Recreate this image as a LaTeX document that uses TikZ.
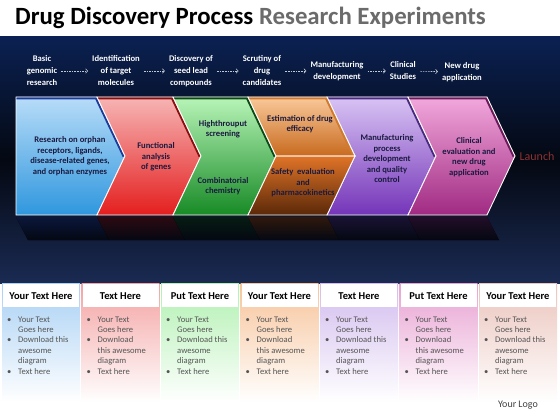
\documentclass[tikz,border=0pt]{standalone}
\usepackage{fontspec}
\setmainfont{Carlito}
\usetikzlibrary{arrows.meta}
\usetikzlibrary{calc}
\definecolor{navytop}{HTML}{0B2152}
\definecolor{bandmid}{HTML}{040812}
\definecolor{navybot}{HTML}{1A2A52}
\definecolor{titlegray}{HTML}{6B6B6B}
\definecolor{chevtext}{HTML}{1A1A40}
\definecolor{bodygray}{HTML}{555555}
\definecolor{launchred}{HTML}{8C3232}
\definecolor{logogray}{HTML}{404040}
% chevron colours: light, dark, edge
\definecolor{bluelt}{HTML}{B8DCF8}\definecolor{bluedk}{HTML}{2F97DE}\definecolor{blueedge}{HTML}{1C3A9A}
\definecolor{redlt}{HTML}{F7B5B5}\definecolor{reddk}{HTML}{E41E1E}\definecolor{rededge}{HTML}{8A1010}
\definecolor{greenlt}{HTML}{B8F5B8}\definecolor{greendk}{HTML}{178A25}\definecolor{greenedge}{HTML}{0C4A14}
\definecolor{orangelt}{HTML}{F9C99A}\definecolor{orangedk}{HTML}{C86A1E}\definecolor{orangeedge}{HTML}{D07A30}
\definecolor{brownlt}{HTML}{E07428}\definecolor{browndk}{HTML}{5A2808}
\definecolor{purplelt}{HTML}{D8C4F4}\definecolor{purpledk}{HTML}{7434B8}\definecolor{purpleedge}{HTML}{4A2A80}
\definecolor{pinklt}{HTML}{F2A8DC}\definecolor{pinkdk}{HTML}{A02A82}\definecolor{pinkedge}{HTML}{6A1A5A}
% column colours
\definecolor{colblue}{HTML}{A8D0F4}
\definecolor{colred}{HTML}{F4A2A2}
\definecolor{colgreen}{HTML}{B0F0B0}
\definecolor{colorange}{HTML}{F7C49A}
\definecolor{colpurple}{HTML}{D2BCEE}
\definecolor{colpink}{HTML}{E8A2D2}
\definecolor{colrose}{HTML}{EBC4BC}
\tikzset{
    toplabel/.style={align=center, text=white, inner sep=1pt, font=\bfseries\fontsize{8.6}{12}\selectfont},
    flowarrow/.style={draw=white!75!navytop, line width=0.6pt, dash pattern=on 1.6pt off 1pt,
        -{Straight Barb[length=2pt,width=4.5pt]}, shorten <=3pt, shorten >=3pt},
    chevlabel/.style={align=center, text=chevtext, font=\bfseries\fontsize{8.6}{10.5}\selectfont},
    headtext/.style={font=\bfseries\fontsize{10.5}{12}\selectfont, text=black},
    bodytext/.style={font=\fontsize{8.6}{10.4}\selectfont, text=bodygray, inner sep=0pt}
}
% one chevron: left x, right x, top colour, bottom colour, edge colour, notch depth
\newcommand{\chevron}[6]{
    \begin{scope}
        \clip (#1,97) -- (#2,97) -- ({#2+28},156) -- (#2,215) -- (#1,215) -- ({#1+#6},156) -- cycle;
        \fill[top color=#3, bottom color=#4] (#1,97) rectangle ({#2+28},215);
        \draw[#5, line width=5pt] (#1,97) -- (#2,97) -- ({#2+28},156);
    \end{scope}
    \draw[white, line width=0.9pt] (#1,97) -- (#2,97) -- ({#2+28},156) -- (#2,215) -- (#1,215) -- ({#1+#6},156) -- cycle;
    \fill[top color=#5!30!bandmid, bottom color=bandmid] (#1,217) -- (#2,217) -- ({#2+12},240) -- ({#1+12},240) -- cycle;
}
% one text column below: name, left x, colour, header
\newcommand{\textcol}[4]{
    \fill[top color=#3, bottom color=white] (#2,283) rectangle ({#2+78},402);
    \fill[white] ({#2+1},284) rectangle ({#2+77},307);
    \node[headtext] (#1head) at ({#2+39},296) {#4};
}

\begin{document}
\begin{tikzpicture}[x=1pt,y=-1pt]
    \useasboundingbox (0,0) rectangle (560,420);
    % title
    \node[anchor=base west, inner sep=0pt, font=\bfseries\fontsize{24.8}{28}\selectfont] (title) at (15,25)
        {Drug Discovery Process \textcolor{titlegray}{Research Experiments}};
    % dark band
    \fill[top color=navytop, bottom color=navybot, middle color=bandmid] (0,37) rectangle (560,283);
    % steps on top
    \node[toplabel] (basic) at (42,71) {Basic\\genomic\\research};
    \node[toplabel] (target) at (116,71) {Identification\\of target\\molecules};
    \node[toplabel] (seed) at (191,71) {Discovery of\\seed lead\\compounds};
    \node[toplabel] (drug) at (262,71) {Scrutiny of\\drug\\candidates};
    \node[toplabel] (manufact) at (337,71) {Manufacturing\\development};
    \node[toplabel] (studies) at (403,71) {Clinical\\Studies};
    \node[toplabel] (newdrug) at (462,72) {New drug\\application};
    \draw[flowarrow] (basic) -- (target);
    \draw[flowarrow] (target) -- (seed);
    \draw[flowarrow] (seed) -- (drug);
    \draw[flowarrow] (drug) -- (manufact);
    \draw[flowarrow] (manufact) -- (studies);
    \draw[flowarrow] (studies) -- (newdrug);
    % chevrons
    \chevron{16}{97}{bluelt}{bluedk}{blueedge}{0}
    \chevron{97}{173}{redlt}{reddk}{rededge}{28}
    \chevron{173}{248}{greenlt}{greendk}{greenedge}{28}
    \chevron{327}{408}{purplelt}{purpledk}{purpleedge}{28}
    \chevron{408}{487}{pinklt}{pinkdk}{pinkedge}{28}
    % split orange chevron
    \begin{scope}
        \clip (248,97) -- (327,97) -- (355,156) -- (276,156) -- cycle;
        \fill[top color=orangelt, bottom color=orangedk] (248,97) rectangle (355,156);
        \draw[orangeedge, line width=5pt] (248,97) -- (327,97) -- (355,156);
    \end{scope}
    \fill[top color=brownlt, bottom color=browndk] (276,156) -- (355,156) -- (327,215) -- (248,215) -- cycle;
    \draw[white, line width=0.9pt] (248,97) -- (327,97) -- (355,156) -- (276,156) -- cycle;
    \draw[white, line width=0.9pt] (276,156) -- (355,156) -- (327,215) -- (248,215) -- cycle;
    \fill[top color=browndk!50!bandmid, bottom color=bandmid] (248,217) -- (327,217) -- (339,240) -- (260,240) -- cycle;
    % texts on chevrons
    \node[chevlabel] (orphan) at (70,156) {Research on orphan\\receptors, ligands,\\disease-related genes,\\and orphan enzymes};
    \node[chevlabel] (genes) at (156,157) {Functional\\analysis\\of genes};
    \node[chevlabel] (screening) at (223,129) {Highthrouput\\screening};
    \node[chevlabel] (chemistry) at (223,186) {Combinatorial\\chemistry};
    \node[chevlabel] (efficacy) at (300,124) {Estimation of drug\\efficacy};
    \node[chevlabel] (safety) at (303,183) {Safety\ \ evaluation\\and\\pharmacokinetics};
    \node[chevlabel] (process) at (387,159) {Manufacturing\\process\\development\\and quality\\control};
    \node[chevlabel] (clinical) at (469,157) {Clinical\\evaluation and\\new drug\\application};
    \node[text=launchred, font=\fontsize{12}{14}\selectfont] (launch) at (537,156) {Launch};
    % columns below
    \textcol{a}{2}{colblue}{Your Text Here}
    \textcol{b}{81.5}{colred}{Text Here}
    \textcol{c}{161}{colgreen}{Put Text Here}
    \textcol{d}{240.5}{colorange}{Your Text Here}
    \textcol{e}{320}{colpurple}{Text Here}
    \textcol{f}{399.5}{colpink}{Put Text Here}
    \textcol{g}{479}{colrose}{Your Text Here}
    \node[bodytext, anchor=base west] (abody) at (7,322) {\begin{tabular}[t]{@{}p{11pt}@{}l@{}}\textbullet & Your Text\\ & Goes here\\ \textbullet & Download this\\ & awesome\\ & diagram\\ \textbullet & Text here\end{tabular}};
    \node[bodytext, anchor=base west] (bbody) at (86.5,322) {\begin{tabular}[t]{@{}p{11pt}@{}l@{}}\textbullet & Your Text\\ & Goes here\\ \textbullet & Download\\ & this awesome\\ & diagram\\ \textbullet & Text here\end{tabular}};
    \node[bodytext, anchor=base west] (cbody) at (166,322) {\begin{tabular}[t]{@{}p{11pt}@{}l@{}}\textbullet & Your Text\\ & Goes here\\ \textbullet & Download this\\ & awesome\\ & diagram\\ \textbullet & Text here\end{tabular}};
    \node[bodytext, anchor=base west] (dbody) at (245.5,322) {\begin{tabular}[t]{@{}p{11pt}@{}l@{}}\textbullet & Your Text\\ & Goes here\\ \textbullet & Download\\ & this awesome\\ & diagram\\ \textbullet & Text here\end{tabular}};
    \node[bodytext, anchor=base west] (ebody) at (325,322) {\begin{tabular}[t]{@{}p{11pt}@{}l@{}}\textbullet & Your Text\\ & Goes here\\ \textbullet & Download this\\ & awesome\\ & diagram\\ \textbullet & Text here\end{tabular}};
    \node[bodytext, anchor=base west] (fbody) at (404.5,322) {\begin{tabular}[t]{@{}p{11pt}@{}l@{}}\textbullet & Your Text\\ & Goes here\\ \textbullet & Download\\ & this awesome\\ & diagram\\ \textbullet & Text here\end{tabular}};
    \node[bodytext, anchor=base west] (gbody) at (484,322) {\begin{tabular}[t]{@{}p{11pt}@{}l@{}}\textbullet & Your Text\\ & Goes here\\ \textbullet & Download this\\ & awesome\\ & diagram\\ \textbullet & Text here\end{tabular}};
    \node[text=logogray, font=\fontsize{10}{12}\selectfont] (logo) at (518,405) {Your Logo};
\end{tikzpicture}
\end{document}
